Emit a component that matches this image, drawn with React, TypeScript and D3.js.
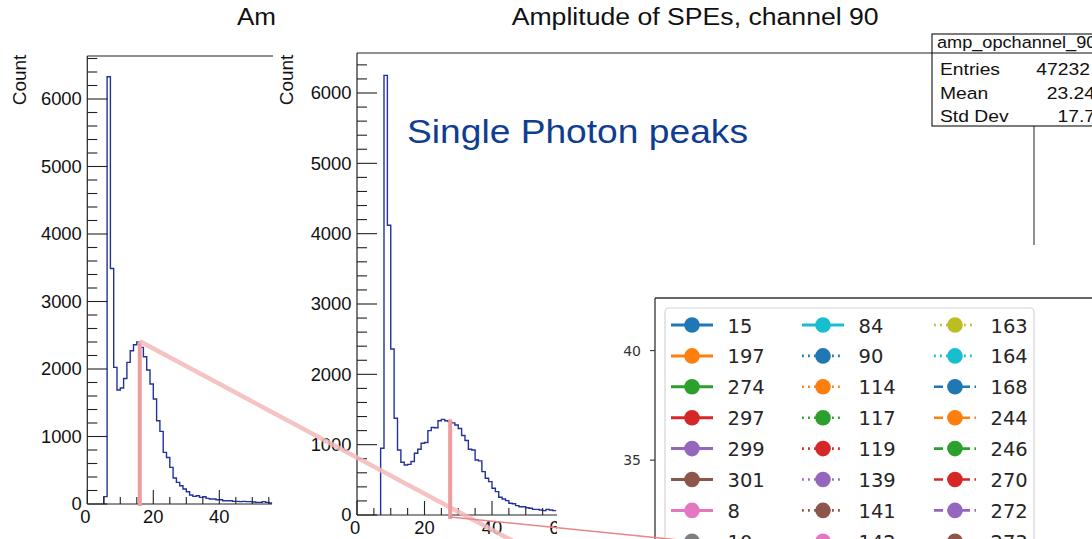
import * as d3 from 'd3'

// histogram contents (counts per 1-unit bin)
const leftFirstBin = 5
const leftCounts = [110, 6330, 3490, 2024, 1690, 1718, 1860, 2098, 2271, 2360, 2400, 2320, 2182, 1985, 1778, 1556, 1234, 1076, 765, 690, 542, 385, 320, 271, 222, 182, 133, 113, 123, 98, 108, 83, 74, 74, 64, 64, 49, 49, 49, 39, 39, 35, 39, 35, 35, 30, 24, 24, 35, 24, 15]
const rightFirstBin = 7
const rightCounts = [950, 6250, 4120, 2360, 1375, 925, 750, 710, 720, 760, 877, 935, 1020, 1030, 1200, 1245, 1240, 1340, 1360, 1340, 1330, 1310, 1280, 1230, 1130, 1060, 935, 925, 782, 770, 616, 522, 474, 380, 332, 252, 228, 204, 166, 160, 133, 118, 118, 104, 95, 80, 80, 71, 62, 80, 71, 62]
const binWidth = 1

const yMajorTicks = [0, 1000, 2000, 3000, 4000, 5000, 6000]
const xMajorTicks = [0, 20, 40, 60]

// peak markers (data units of each panel)
const leftPeak = { x: 15.9, y: 2410 }
const rightPeak = { x: 27.6, y: 1360 }
const diagEnd = { x: 46.8, y: -385 }
const thinEnd = { x: 101.6, y: -385 }

const stats = [
  ['Entries', '47232'],
  ['Mean', '23.24'],
  ['Std Dev', '17.7'],
]

const legendCol1 = ['15', '197', '274', '297', '299', '301', '8', '10']
const legendCol2 = ['84', '90', '114', '117', '119', '139', '141', '142']
const legendCol3 = ['163', '164', '168', '244', '246', '270', '272', '273']
const mplTicks = [35, 40]

const FONT = "'Liberation Sans', Arial, Helvetica, sans-serif"
const HIST = '#22329a'
const AXIS = '#222'

function histPath(counts: number[], first: number, x: any, y: any) {
  let d = `M${x(first)},${y(0)}`
  counts.forEach((c, i) => {
    d += `V${y(c)}H${x(first + (i + 1) * binWidth)}`
  })
  return d
}

function Panel({ counts, first, x, y, top, frameRight, xMax }: any) {
  const x0 = x(0)
  const y0 = y(0)
  const yMinor = d3.range(0, 7000, 200).filter(v => y(v) >= top + 1 && v % 1000 !== 0)
  const xMinor = d3.range(5, xMax, 5).filter(v => v % 20 !== 0)
  return (
    <g>
      <path d={histPath(counts, first, x, y)} fill="none" stroke={HIST} strokeWidth={1.4} />
      <line x1={x0} x2={x0} y1={top} y2={y0} stroke={AXIS} strokeWidth={1.2} />
      <line x1={x0} x2={frameRight} y1={top} y2={top} stroke={AXIS} strokeWidth={1.2} />
      <line x1={x0} x2={x(xMax)} y1={y0} y2={y0} stroke={AXIS} strokeWidth={1.2} />
      {yMajorTicks.map(v => (
        <g key={'ym' + v}>
          <line x1={x0} x2={x0 + 20} y1={y(v)} y2={y(v)} stroke={AXIS} strokeWidth={1.1} />
          <text transform={`translate(${x0 - 5.5},${y(v)}) scale(1.05,1)`} dy="0.36em" textAnchor="end" fontSize={17.5} fill="#111">{v}</text>
        </g>
      ))}
      {yMinor.map(v => (
        <line key={'yn' + v} x1={x0} x2={x0 + 10} y1={y(v)} y2={y(v)} stroke={AXIS} strokeWidth={1.1} />
      ))}
      {xMajorTicks.map(v => (
        <g key={'xm' + v}>
          <line x1={x(v)} x2={x(v)} y1={y0} y2={y0 - 14} stroke={AXIS} strokeWidth={1.1} />
          <text transform={`translate(${x(v) - (v === 0 ? 2 : 0)},${y0 + 19}) scale(1.05,1)`} textAnchor="middle" fontSize={17.5} fill="#111">{v}</text>
        </g>
      ))}
      {xMinor.map(v => (
        <line key={'xn' + v} x1={x(v)} x2={x(v)} y1={y0} y2={y0 - 7} stroke={AXIS} strokeWidth={1.1} />
      ))}
    </g>
  )
}

function Legend() {
  const cols = [legendCol1, legendCol2, legendCol3]
  const colX = [671, 802, 934]
  const colors = d3.schemeCategory10
  return (
    <g fontFamily="'DejaVu Sans', sans-serif">
      <rect x={665} y={308} width={369} height={260} rx={4} fill="#fff" stroke="#d4d4d4" strokeWidth={1.2} />
      {cols.map((col, ci) =>
        col.map((label, ri) => {
          const idx = ci * 9 + ri
          const color = colors[idx % 10]
          const dash = idx < 10 ? undefined : idx < 20 ? '1.8 4.2' : '9 4.5'
          const cy = 325 + ri * 30.9
          const hx = colX[ci]
          return (
            <g key={label}>
              <line x1={hx} x2={hx + 42} y1={cy} y2={cy} stroke={color} strokeWidth={idx < 10 ? 3 : 2.6} strokeDasharray={dash} />
              <circle cx={hx + 21} cy={cy} r={7.8} fill={color} />
              <text x={hx + 56.5} y={cy + 7.5} fontSize={19.5} fill="#262626">{label}</text>
            </g>
          )
        })
      )}
    </g>
  )
}

export default function App() {
  const lx = d3.scaleLinear().domain([0, 40]).range([87.3, 219.3])
  const ly = d3.scaleLinear().domain([0, 6000]).range([504, 99])
  const rx = d3.scaleLinear().domain([0, 40]).range([357, 492])
  const ry = d3.scaleLinear().domain([0, 6000]).range([515, 93])
  const my = d3.scaleLinear().domain([31.4, 42.4]).range([539, 298])

  return (
    <svg width={1092} height={539} style={{ position: 'absolute', left: 0, top: 0, background: '#fff' }} fontFamily={FONT}>
      <rect width={1092} height={539} fill="#fff" />

      {/* left ROOT canvas */}
      <text x={237} y={25} fontSize={23} textLength={39} lengthAdjust="spacingAndGlyphs" fill="#111">Am</text>
      <text transform="translate(26,80) rotate(-90)" textAnchor="middle" fontSize={19} fill="#111">Count</text>
      <Panel counts={leftCounts} first={leftFirstBin} x={lx} y={ly} top={56} frameRight={273} xMax={56} />

      {/* second canvas pasted over it */}
      <rect x={275} y={0} width={817} height={539} fill="#fff" />
      <text x={511.7} y={25} fontSize={23} textLength={367} lengthAdjust="spacingAndGlyphs" fill="#111">Amplitude of SPEs, channel 90</text>
      <text transform="translate(293,80) rotate(-90)" textAnchor="middle" fontSize={19} fill="#111">Count</text>
      <Panel counts={rightCounts} first={rightFirstBin} x={rx} y={ry} top={53} frameRight={932} xMax={60} />

      {/* stats box */}
      <line x1={1034} x2={1034} y1={126} y2={245} stroke="#555" strokeWidth={1.3} />
      <rect x={932} y={34} width={180} height={92} fill="#fff" stroke="#111" strokeWidth={1.1} />
      <line x1={932} x2={1092} y1={53} y2={53} stroke="#111" strokeWidth={1.1} />
      <text transform="translate(937,48) scale(1.1,1)" fontSize={16.5} fill="#111">amp_opchannel_90</text>
      {stats.map(([k, v], i) => (
        <g key={k}>
          <text transform={`translate(940,${75 + i * 23.5}) scale(1.17,1)`} fontSize={16.5} fill="#111">{k}</text>
          <text transform={`translate(${i === 0 ? 1090 : 1095},${75 + i * 23.5}) scale(1.17,1)`} textAnchor="end" fontSize={16.5} fill="#111">{v}</text>
        </g>
      ))}

      <text x={407} y={143} fontSize={33} textLength={341} lengthAdjust="spacingAndGlyphs" fill="#0f3d92">Single Photon peaks</text>

      {/* matplotlib screenshot */}
      <rect x={557} y={245} width={535} height={294} fill="#fff" />
      <line x1={655} x2={655} y1={298} y2={539} stroke="#333" strokeWidth={1.3} />
      <line x1={655} x2={1092} y1={298} y2={298} stroke="#333" strokeWidth={1.3} />
      {mplTicks.map(t => (
        <g key={t}>
          <line x1={650} x2={655} y1={my(t)} y2={my(t)} stroke="#333" strokeWidth={1.1} />
          <text x={641} y={my(t)} dy="0.36em" textAnchor="end" fontSize={14} fontFamily="'DejaVu Sans', sans-serif" fill="#333">{t}</text>
        </g>
      ))}
      <Legend />

      {/* zoom connectors */}
      <line x1={lx(leftPeak.x)} x2={lx(leftPeak.x)} y1={ly(leftPeak.y)} y2={ly(0) + 2} stroke="#ef9c9c" strokeWidth={4} />
      <line x1={lx(leftPeak.x)} y1={ly(leftPeak.y)} x2={rx(diagEnd.x)} y2={ry(diagEnd.y)} stroke="#f3b9b9" strokeOpacity={0.85} strokeWidth={4.5} />
      <line x1={rx(rightPeak.x)} x2={rx(rightPeak.x)} y1={ry(rightPeak.y)} y2={ry(0) + 4} stroke="#ef9c9c" strokeWidth={4} />
      <line x1={rx(rightPeak.x)} y1={ry(0) + 2} x2={rx(thinEnd.x)} y2={ry(thinEnd.y)} stroke="#ec8585" strokeWidth={1.5} />
    </svg>
  )
}
